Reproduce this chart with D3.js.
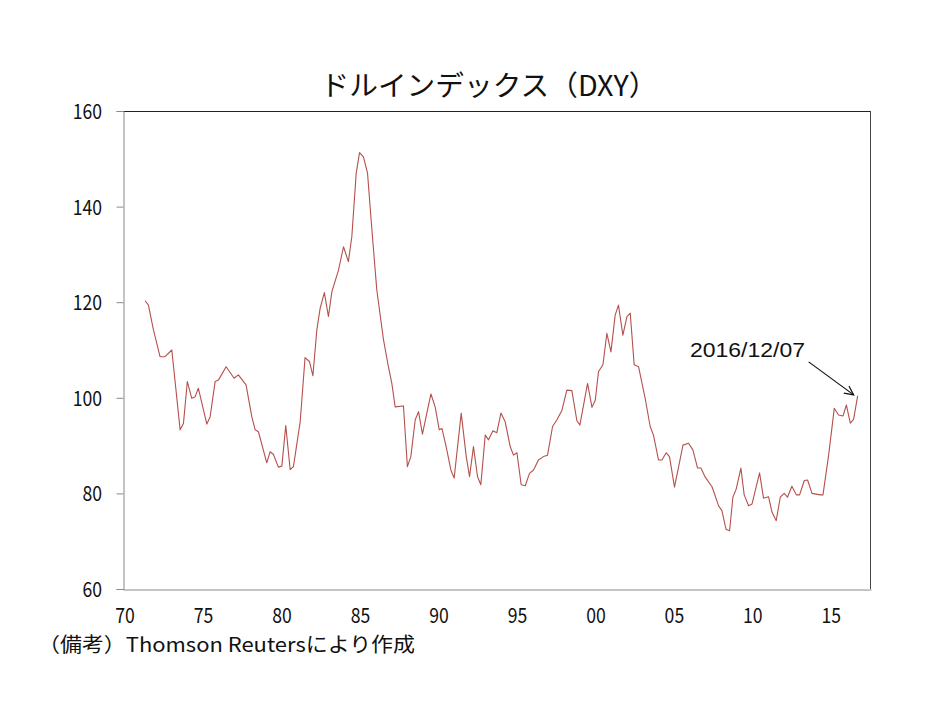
<!DOCTYPE html>
<html>
<head>
<meta charset="utf-8">
<script src="https://cdn.jsdelivr.net/npm/d3@7"></script>
<style>
  html, body { margin: 0; padding: 0; background: #fff; }
  svg { display: block; }
</style>
</head>
<body>
<svg id="chart" width="934" height="701"></svg>
<script>
// ---- data (quarterly-ish readings of the DXY dollar index) ----
const years = [
  1971.31, 1971.52, 1971.84, 1972.26, 1972.58, 1973.01, 1973.54, 1973.75, 1974.00, 1974.28,
  1974.49, 1974.70, 1975.24, 1975.45, 1975.77, 1975.98, 1976.47, 1976.98, 1977.25, 1977.74,
  1978.11, 1978.32, 1978.53, 1979.06, 1979.27, 1979.48, 1979.80, 1980.02, 1980.27, 1980.55,
  1980.76, 1981.19, 1981.50, 1981.78, 1982.00, 1982.25, 1982.46, 1982.73, 1982.99, 1983.21,
  1983.63, 1983.95, 1984.26, 1984.48, 1984.76, 1984.97, 1985.22, 1985.48, 1985.76, 1986.07,
  1986.50, 1986.81, 1987.03, 1987.24, 1987.77, 1988.02, 1988.24, 1988.52, 1988.73, 1988.98,
  1989.26, 1989.52, 1989.79, 1990.05, 1990.22, 1990.49, 1990.79, 1991.00, 1991.45, 1991.77,
  1991.98, 1992.23, 1992.49, 1992.70, 1992.98, 1993.19, 1993.47, 1993.72, 1993.98, 1994.25,
  1994.57, 1994.78, 1995.00, 1995.27, 1995.53, 1995.80, 1996.06, 1996.37, 1996.69, 1996.95,
  1997.27, 1997.55, 1997.87, 1998.18, 1998.50, 1998.82, 1999.01, 1999.50, 1999.78, 1999.99,
  2000.20, 2000.48, 2000.73, 2000.99, 2001.26, 2001.47, 2001.75, 2002.01, 2002.22, 2002.47,
  2002.75, 2003.17, 2003.49, 2003.70, 2004.02, 2004.24, 2004.51, 2004.72, 2005.04, 2005.58,
  2005.93, 2006.21, 2006.51, 2006.72, 2007.00, 2007.43, 2007.85, 2008.06, 2008.32, 2008.55,
  2008.76, 2008.97, 2009.27, 2009.48, 2009.76, 2009.98, 2010.46, 2010.71, 2011.03, 2011.25,
  2011.52, 2011.78, 2012.03, 2012.24, 2012.52, 2012.80, 2013.01, 2013.31, 2013.52, 2013.80,
  2014.33, 2014.50, 2014.86, 2015.22, 2015.49, 2015.78, 2015.99, 2016.24, 2016.45, 2016.71
];
const dxy = [
  120.3, 119.4, 114.2, 108.6, 108.6, 110.0, 93.3, 94.6, 103.4, 99.9,
  100.2, 102.0, 94.5, 96.0, 103.4, 103.7, 106.5, 104.1, 104.8, 102.7,
  96.0, 93.3, 92.9, 86.4, 88.7, 88.2, 85.5, 85.7, 94.2, 85.0,
  85.6, 95.0, 108.4, 107.6, 104.6, 114.2, 118.7, 122.0, 117.0, 122.2,
  126.7, 131.6, 128.5, 133.7, 147.0, 151.3, 150.4, 147.0, 135.1, 122.6,
  112.1, 106.5, 103.0, 98.1, 98.3, 85.6, 87.7, 95.4, 97.1, 92.4,
  96.8, 100.8, 98.1, 93.3, 93.6, 89.8, 84.9, 83.2, 96.8, 87.7,
  83.5, 89.8, 83.5, 81.8, 92.2, 91.2, 93.1, 92.7, 96.8, 95.0,
  89.8, 88.0, 88.5, 81.8, 81.6, 84.2, 84.9, 87.0, 87.7, 88.0,
  94.0, 95.4, 97.4, 101.6, 101.5, 95.2, 94.3, 103.0, 98.0, 99.5,
  105.5, 106.9, 113.5, 109.6, 117.3, 119.4, 113.1, 117.0, 117.7, 106.9,
  106.5, 99.9, 94.0, 92.2, 87.0, 87.0, 88.5, 87.7, 81.3, 90.1,
  90.5, 89.1, 85.3, 85.3, 83.4, 81.4, 77.4, 76.4, 72.5, 72.2,
  79.2, 80.9, 85.3, 79.7, 77.4, 77.8, 84.3, 79.0, 79.3, 76.1,
  74.3, 79.2, 80.0, 79.2, 81.5, 79.7, 79.7, 82.7, 82.8, 80.0,
  79.7, 79.7, 88.0, 97.8, 96.4, 96.2, 98.5, 94.7, 95.5, 100.4
];
const xTickYears = [1970, 1975, 1980, 1985, 1990, 1995, 2000, 2005, 2010, 2015];
const xTickLabels = ["70", "75", "80", "85", "90", "95", "00", "05", "10", "15"];
const yTicks = [60, 80, 100, 120, 140, 160];
const titleText = "ドルインデックス（DXY）";
const noteText = "（備考）Thomson Reutersにより作成";
const annotationText = "2016/12/07";

// ---- layout ----
const svg = d3.select("#chart");
const plot = { left: 123, right: 871, top: 111, bottom: 589 };
const x = d3.scaleLinear().domain([1969.9, 2017.56]).range([plot.left, plot.right]);
const y = d3.scaleLinear().domain([60, 160]).range([plot.bottom, plot.top]);
const jpFont = "'Noto Sans CJK JP', 'Noto Sans', sans-serif";
const sx = 0.84; // horizontal squeeze to mimic narrow gothic digits

// plot frame (top/right dark, left/bottom gray)
svg.append("line").attr("x1", plot.left).attr("x2", plot.right)
  .attr("y1", plot.top + 0.5).attr("y2", plot.top + 0.5)
  .attr("stroke", "#222").attr("stroke-width", 1);
svg.append("line").attr("x1", plot.right - 0.5).attr("x2", plot.right - 0.5)
  .attr("y1", plot.top).attr("y2", plot.bottom)
  .attr("stroke", "#444").attr("stroke-width", 1);

// y axis
const yAxis = svg.append("g")
  .attr("transform", `translate(${plot.left + 0.5},0)`)
  .call(d3.axisLeft(y).tickValues(yTicks).tickSize(7).tickPadding(0).tickFormat(d3.format("d")));
yAxis.select(".domain").attr("stroke", "#8a8a8a");
yAxis.selectAll(".tick line").attr("stroke", "#8a8a8a");
yAxis.selectAll(".tick text")
  .attr("x", -21.5 / sx)
  .attr("dy", "0.36em")
  .attr("transform", `scale(${sx},1)`)
  .attr("fill", "#111")
  .style("font-family", jpFont)
  .style("font-size", "21px");

// x axis
const xAxis = svg.append("g")
  .attr("transform", `translate(0,${plot.bottom + 0.5})`)
  .call(d3.axisBottom(x).tickValues(xTickYears).tickSize(0).tickPadding(0)
    .tickFormat((d, i) => xTickLabels[i]));
xAxis.select(".domain").attr("stroke", "#8a8a8a");
xAxis.selectAll(".tick text")
  .attr("y", 26)
  .attr("dy", "0.36em")
  .attr("fill", "#111")
  .style("font-family", jpFont)
  .style("font-size", "21px")
  .each(function () {
    const t = d3.select(this);
    const g = d3.select(this.parentNode);
    t.attr("transform", `scale(${sx},1)`);
  });

// data line
const pts = years.map((yr, i) => [yr, dxy[i]]);
svg.append("path")
  .datum(pts)
  .attr("fill", "none")
  .attr("stroke", "#b5504c")
  .attr("stroke-width", 1.1)
  .attr("stroke-linejoin", "round")
  .attr("d", d3.line().x(d => x(d[0])).y(d => y(d[1])));

// title
svg.append("text")
  .attr("x", 489).attr("y", 84)
  .attr("text-anchor", "middle")
  .attr("dominant-baseline", "central")
  .attr("fill", "#111")
  .style("font-family", jpFont)
  .style("font-size", "28px")
  .attr("textLength", 337)
  .attr("lengthAdjust", "spacingAndGlyphs")
  .text(titleText);

// footnote
svg.append("text")
  .attr("x", 38).attr("y", 643)
  .attr("dominant-baseline", "central")
  .attr("fill", "#111")
  .style("font-family", jpFont)
  .style("font-size", "20px")
  .attr("textLength", 377)
  .attr("lengthAdjust", "spacingAndGlyphs")
  .text(noteText);

// annotation with arrow pointing at the last reading
const last = pts[pts.length - 1];
const tipX = x(last[0]) - 4, tipY = y(last[1]) - 1;
const startX = tipX - 45, startY = tipY - 33;
svg.append("text")
  .attr("x", 690).attr("y", 357)
  .attr("fill", "#111")
  .style("font-family", "'Liberation Sans', Arial, sans-serif")
  .style("font-size", "21px")
  .attr("textLength", 115)
  .attr("lengthAdjust", "spacingAndGlyphs")
  .text(annotationText);
svg.append("line")
  .attr("x1", startX).attr("y1", startY).attr("x2", tipX).attr("y2", tipY)
  .attr("stroke", "#111").attr("stroke-width", 1.2);
const ang = Math.atan2(tipY - startY, tipX - startX);
const ah = 10, spread = 0.45;
svg.append("path")
  .attr("d", `M${tipX - ah * Math.cos(ang - spread)},${tipY - ah * Math.sin(ang - spread)}L${tipX},${tipY}L${tipX - ah * Math.cos(ang + spread)},${tipY - ah * Math.sin(ang + spread)}`)
  .attr("fill", "none").attr("stroke", "#111").attr("stroke-width", 1.2);
</script>
</body>
</html>
